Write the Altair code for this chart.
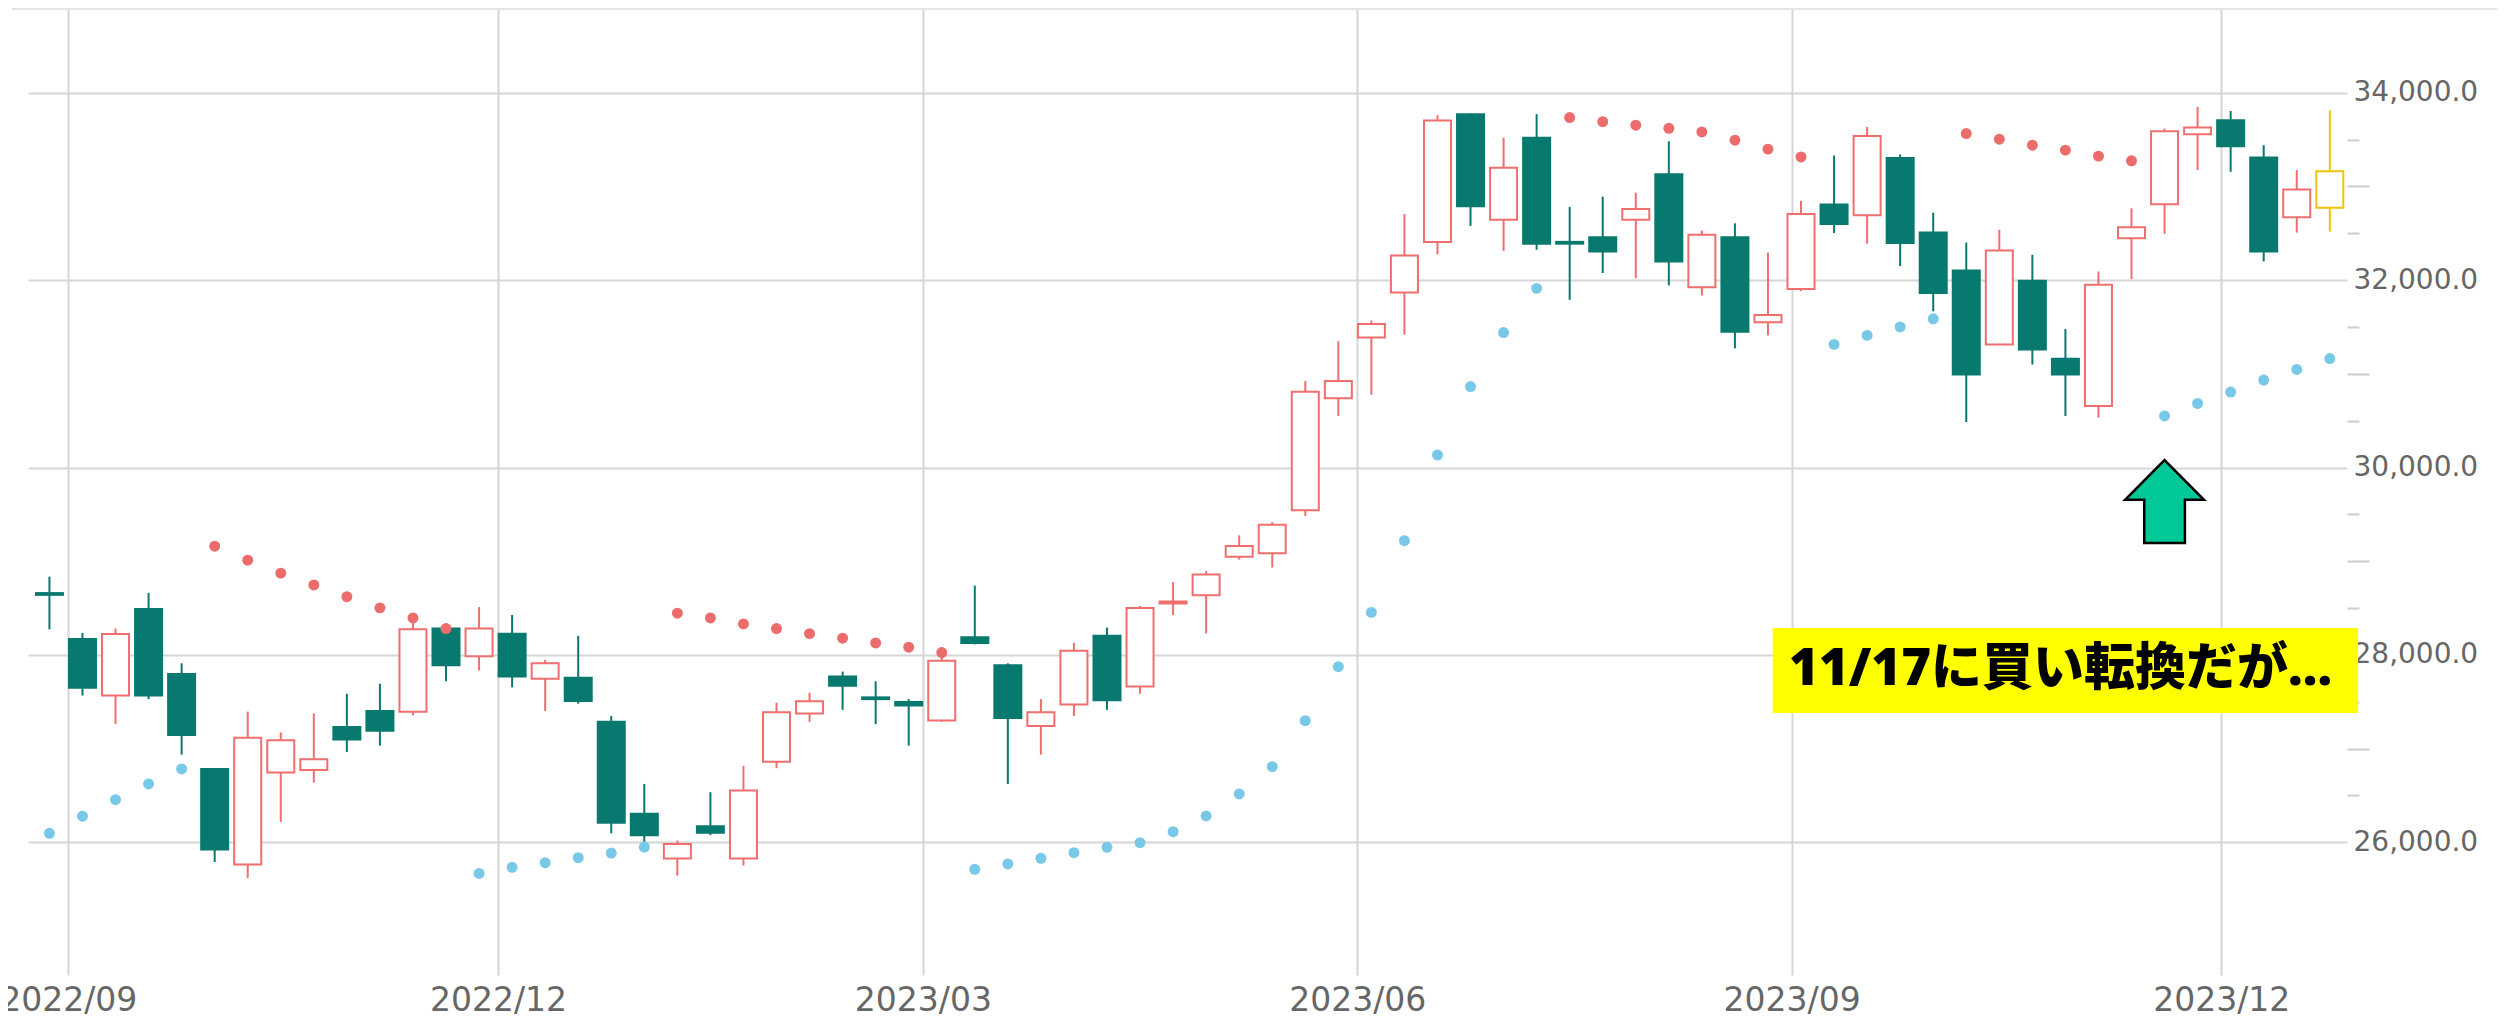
import altair as alt
import pandas as pd
import numpy as np

# ---- weekly candles (week start, Monday) ----
weeks = [
    "2022-08-22", "2022-08-29", "2022-09-05", "2022-09-12", "2022-09-19", "2022-09-26",
    "2022-10-03", "2022-10-10", "2022-10-17", "2022-10-24", "2022-10-31", "2022-11-07",
    "2022-11-14", "2022-11-21", "2022-11-28", "2022-12-05", "2022-12-12", "2022-12-19",
    "2022-12-26", "2023-01-02", "2023-01-09", "2023-01-16", "2023-01-23", "2023-01-30",
    "2023-02-06", "2023-02-13", "2023-02-20", "2023-02-27", "2023-03-06", "2023-03-13",
    "2023-03-20", "2023-03-27", "2023-04-03", "2023-04-10", "2023-04-17", "2023-04-24",
    "2023-05-01", "2023-05-08", "2023-05-15", "2023-05-22", "2023-05-29", "2023-06-05",
    "2023-06-12", "2023-06-19", "2023-06-26", "2023-07-03", "2023-07-10", "2023-07-17",
    "2023-07-24", "2023-07-31", "2023-08-07", "2023-08-14", "2023-08-21", "2023-08-28",
    "2023-09-04", "2023-09-11", "2023-09-18", "2023-09-25", "2023-10-02", "2023-10-09",
    "2023-10-16", "2023-10-23", "2023-10-30", "2023-11-06", "2023-11-13", "2023-11-20",
    "2023-11-27", "2023-12-04", "2023-12-11", "2023-12-18",
]
opens = [
    28660, 28170, 27566, 28491, 27796, 26783, 25763, 26745, 26772, 27230, 27402, 27394,
    28281, 27987, 28227, 27746, 27757, 27288, 26306, 25828, 26172, 25828, 26860, 27375,
    27769, 27547, 27498, 27299, 28189, 27891, 27242, 27471, 28204, 27662, 28548, 28636,
    29048, 29086, 29543, 30739, 31387, 31867, 32408, 33771, 32644, 33520, 32408, 32457,
    32644, 33131, 31924, 32457, 31551, 31905, 32808, 32693, 33303, 32507, 32103, 31312,
    31993, 31160, 30656, 32447, 32809, 33557, 33706, 33309, 32670, 32773,
]
highs = [
    28835, 28235, 28281, 28663, 27910, 26790, 27395, 27173, 27375, 27585, 27693, 28395,
    28292, 28510, 28426, 27948, 28204, 27349, 26623, 26019, 26535, 26814, 27490, 27597,
    27822, 27719, 27528, 27975, 28739, 27910, 27528, 28128, 28292, 28522, 28777, 28895,
    29276, 29417, 30922, 31349, 31570, 32705, 33760, 33780, 33520, 33771, 32781, 32891,
    32933, 33482, 32530, 32606, 32293, 32846, 33330, 33634, 33341, 32720, 32401, 32536,
    32270, 31479, 32092, 32766, 33617, 33848, 33805, 33440, 33174, 33812,
]
lows = [
    28273, 27566, 27261, 27528, 26936, 25790, 25618, 26218, 26638, 26963, 27032, 27356,
    27719, 27834, 27654, 27402, 27479, 26096, 25981, 25645, 26076, 25752, 26791, 27287,
    27414, 27261, 27032, 27287, 28113, 26623, 26936, 27349, 27414, 27586, 28426, 28230,
    29017, 28933, 29482, 30549, 30777, 31417, 32274, 32579, 32312, 32324, 31790, 32076,
    32019, 31943, 31836, 31272, 31410, 31882, 32503, 32389, 32149, 31667, 30486, 31312,
    31099, 30550, 30532, 32011, 32493, 33174, 33156, 32199, 32507, 32518,
]
closes = [
    28641, 27650, 28224, 27566, 27146, 25924, 27116, 27089, 26886, 27096, 27192, 28273,
    27891, 28281, 27769, 27910, 27509, 26210, 26076, 25981, 26103, 26554, 27387, 27505,
    27670, 27528, 27460, 27937, 28128, 27326, 27387, 28044, 27517, 28502, 28571, 28857,
    29162, 29390, 30808, 30922, 31531, 32263, 33703, 32789, 33200, 32389, 32389, 32305,
    32758, 32198, 32484, 31448, 31627, 32705, 32598, 33539, 32396, 31862, 30993, 32316,
    31259, 30993, 31950, 32564, 33589, 33628, 33429, 32305, 32968, 33163,
]
# Parabolic SAR
sar = [
    26096, 26279, 26455, 26623, 26783,
    29160, 29011, 28873, 28747, 28621, 28502, 28395, 28281,
    25668, 25733, 25782, 25836, 25885, 25950,
    28445, 28395, 28330, 28281, 28227, 28178, 28128, 28082, 28025,
    25712, 25769, 25829, 25889, 25947, 25996, 26113, 26281, 26516, 26807, 27298, 27874, 28454, 29219,
    30133, 30864, 31440, 31912,
    33735, 33691, 33653, 33620, 33581, 33493, 33398, 33314,
    31314, 31410, 31501, 31587,
    33564, 33504, 33440, 33387, 33323, 33273,
    30550, 30684, 30805, 30933, 31046, 31163,
]

x_tick_dates = ["2022-09-01", "2022-12-01", "2023-03-01", "2023-06-01", "2023-09-01", "2023-12-01"]
y_tick_values = list(range(26000, 34001, 500))

note_text = "11/17に買い転換だが…"
signal_date = ["2023-11-19"]
signal_price = [29637]
note_box_x = ["2023-08-28", "2023-12-30"]
note_box_y = [27379, 28286]
note_pos_x = ["2023-10-28"]
note_pos_y = [27839]


def ms(s):
    return int(pd.Timestamp(s, tz="UTC").value // 10**6)


df = pd.DataFrame({"week": weeks, "open": opens, "high": highs, "low": lows,
                   "close": closes, "sar": sar})
df["date"] = (pd.to_datetime(df["week"]) + pd.Timedelta(days=6)).dt.strftime("%Y-%m-%d")
df["dir"] = np.where(df["close"] >= df["open"], "up", "down")
df.loc[df.index[-1], "dir"] = "last"
df["side"] = np.where(df["sar"] > df["close"], "short", "long")

TEAL = "#08796f"
RED = "#f06e6e"
YEL = "#f4c20d"
GRID = "#d6d6d6"
LABEL = "#666666"

x_axis = alt.Axis(values=[ms(d) for d in x_tick_dates],
                  labelExpr="utcFormat(datum.value, '%Y/%m')",
                  grid=True, gridColor=GRID, gridWidth=2, ticks=False, domain=False,
                  labelPadding=9, labelFontSize=33, labelColor=LABEL, labelFont="DejaVu Sans",
                  labelFlush=False, labelOverlap=False, title=None)
x_scale = alt.Scale(type="utc", domain=[ms("2022-08-24T12:30"), ms("2023-12-26T14:00")])

y_axis = alt.Axis(orient="right", values=y_tick_values,
                  labelExpr="datum.value % 2000 === 0 ? format(datum.value, ',.1f') : ''",
                  tickSize={"condition": [{"test": "datum.value % 2000 === 0", "value": 0},
                                          {"test": "datum.value % 1000 === 0", "value": 22}],
                            "value": 12},
                  tickColor="#cccccc", tickWidth=2,
                  gridOpacity={"condition": {"test": "datum.value % 2000 === 0", "value": 1},
                               "value": 0},
                  gridColor=GRID, gridWidth=2, domain=False, labelPadding=6,
                  labelFontSize=28, labelColor=LABEL, labelFont="DejaVu Sans",
                  labelOverlap=False, title=None)
y_scale = alt.Scale(domain=[24584, 34904], nice=False, zero=False)

stroke_scale = alt.Scale(domain=["up", "down", "last"], range=[RED, TEAL, YEL])
fill_scale = alt.Scale(domain=["up", "down", "last"], range=["#ffffff", TEAL, "#ffffff"])

base = alt.Chart(df)
X = alt.X("date:T", scale=x_scale, axis=x_axis)

wicks = base.mark_rule(strokeWidth=2).encode(
    x=X,
    y=alt.Y("low:Q", scale=y_scale, axis=y_axis),
    y2="high:Q",
    stroke=alt.Stroke("dir:N", scale=stroke_scale, legend=None),
)
bodies = base.mark_bar(size=27, strokeWidth=2).encode(
    x=X,
    y=alt.Y("open:Q", scale=y_scale, axis=y_axis),
    y2="close:Q",
    fill=alt.Fill("dir:N", scale=fill_scale, legend=None),
    stroke=alt.Stroke("dir:N", scale=stroke_scale, legend=None),
)
dots = base.mark_circle(size=120, opacity=1).encode(
    x=X,
    y=alt.Y("sar:Q", scale=y_scale, axis=y_axis),
    color=alt.Color("side:N", scale=alt.Scale(domain=["short", "long"],
                                                range=["#ec6c6c", "#78c8e8"]), legend=None),
)

top_line = alt.Chart(pd.DataFrame({"a": [0]})).mark_rule(color="#e4e4e4", strokeWidth=2).encode(
    y=alt.value(1), x=alt.value(-16), x2=alt.value(2500)
)

arrow_df = pd.DataFrame({"date": signal_date, "value": signal_price})
arrow_path = "M0,-1 L0.95,-0.04 L0.49,-0.04 L0.49,1 L-0.49,1 L-0.49,-0.04 L-0.95,-0.04 Z"
arrow = alt.Chart(arrow_df).mark_point(shape=arrow_path, filled=True, fill="#00c896",
                                       stroke="#000000", strokeWidth=2.5, size=6889,
                                       opacity=1).encode(
    x=X, y=alt.Y("value:Q", scale=y_scale, axis=y_axis)
)

box_df = pd.DataFrame({"x1": [note_box_x[0]], "x2": [note_box_x[1]],
                       "y1": [note_box_y[0]], "y2": [note_box_y[1]]})
box = alt.Chart(box_df).mark_rect(color="#ffff00").encode(
    x=alt.X("x1:T", scale=x_scale, axis=x_axis), x2="x2:T",
    y=alt.Y("y1:Q", scale=y_scale, axis=y_axis), y2="y2:Q",
)
text_df = pd.DataFrame({"date": note_pos_x, "value": note_pos_y, "label": [note_text]})
text = alt.Chart(text_df).mark_text(font="Noto Sans, Noto Sans CJK JP", fontSize=51,
                                    fontWeight=900, color="#000000", align="center",
                                    baseline="middle").encode(
    x=X, y=alt.Y("value:Q", scale=y_scale, axis=y_axis), text="label:N"
)

chart = alt.layer(wicks, bodies, dots, top_line, arrow, box, text).properties(
    width=2319, height=967,
    padding={"left": 20, "top": 0, "right": 150, "bottom": 52},
    autosize=alt.AutoSizeParams(type="none"),
    background="#ffffff",
).configure_view(stroke=None)

chart.save("out.html", embed_options={"renderer": "svg", "actions": False})
